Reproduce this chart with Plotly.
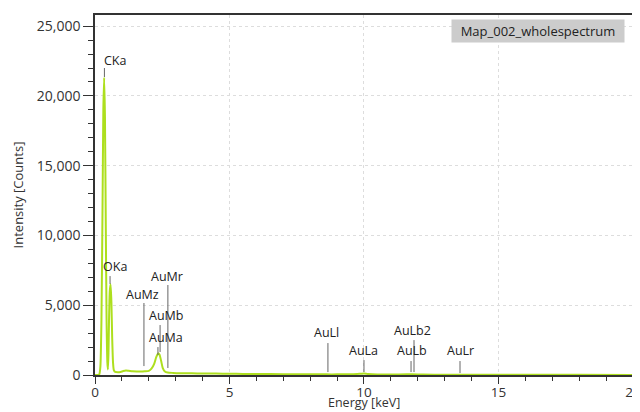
import plotly.graph_objects as go

# Spectrum
energy_kev = [0.0, 0.10, 0.16, 0.20, 0.24, 0.28, 0.31, 0.34, 0.37, 0.40, 0.43, 0.46, 0.48,
              0.50, 0.52, 0.55, 0.58, 0.61, 0.64, 0.67, 0.70, 0.75, 0.85, 0.95, 1.05, 1.15,
              1.25, 1.40, 1.55, 1.70, 1.85, 2.00, 2.10, 2.20, 2.28, 2.35, 2.40, 2.46, 2.52,
              2.60, 2.70, 2.90, 3.2, 3.6, 4.0, 4.5, 5.0, 5.5, 6.0, 7.0, 8.0, 8.6, 9.0, 9.6,
              9.9, 10.0, 10.15, 10.5, 11.0, 11.6, 11.8, 12.2, 13.0, 14.0, 16.0, 18.0, 20.0]
counts = [0, 0, 50, 600, 4000, 12000, 19000, 21300, 18500, 11000, 4000, 900, 400,
          1500, 3800, 6000, 6500, 5200, 2600, 900, 350, 220, 200, 220, 280, 320,
          300, 260, 250, 250, 270, 300, 450, 800, 1300, 1550, 1450, 1000, 500,
          250, 180, 150, 130, 120, 110, 100, 90, 80, 70, 60, 50, 45, 45, 60,
          90, 100, 70, 40, 35, 45, 50, 30, 25, 20, 15, 10, 8]

# Peak identification markers
peak_names = ["CKa", "OKa", "AuMz", "AuMr", "AuMb", "AuMa", "AuLl", "AuLa", "AuLb2", "AuLb", "AuLr"]
peak_line_x = [0.35, 0.56, 1.82, 2.71, 2.42, 2.34, 8.66, 10.0, 11.86, 11.75, 13.57]
peak_line_top = [22000, 7090, 5160, 6450, 3580, 2000, 2290, 1070, 2500, 1000, 1000]
peak_line_bottom = [21350, 6520, 640, 500, 1650, 1430, 210, 210, 210, 210, 140]
label_x = [0.73, 0.75, 1.75, 2.68, 2.64, 2.64, 8.62, 10.0, 11.82, 11.78, 13.57]
label_y = [22560, 7810, 5800, 7090, 4230, 2720, 3080, 1790, 3220, 1790, 1790]

y_ticks = [0, 5000, 10000, 15000, 20000, 25000]
x_ticks = [0, 5, 10, 15, 20]

fig = go.Figure()
fig.add_trace(go.Scatter(x=energy_kev, y=counts, mode="lines",
                         line=dict(color="#addf1e", width=2, shape="spline", smoothing=0.6),
                         showlegend=False, hoverinfo="skip"))

for n, lx, lt, lb, tx, ty in zip(peak_names, peak_line_x, peak_line_top, peak_line_bottom, label_x, label_y):
    fig.add_shape(type="line", xref="x", yref="y", x0=lx, x1=lx, y0=lb, y1=lt,
                  line=dict(color="#666666", width=1))
    fig.add_annotation(x=tx, y=ty, xref="x", yref="y", text=n, showarrow=False,
                       font=dict(size=12.5, color="#222222", family="Open Sans"))

fig.add_annotation(xref="paper", yref="paper", x=0.985, y=0.99, xanchor="right", yanchor="top",
                   text="Map_002_wholespectrum", showarrow=False, bgcolor="#cccccc",
                   borderpad=2, width=168,
                   font=dict(size=13, color="#222222", family="Open Sans"))

# x-axis title placed just below the tick labels, at the bottom edge
fig.add_annotation(xref="paper", yref="paper", x=0.5, y=-0.102, xanchor="center", yanchor="bottom",
                   text="Energy [keV]", showarrow=False, borderpad=0,
                   font=dict(size=12.5, color="#333333", family="Open Sans"))

# page body adds an 8px offset; figure sized so plot lands at the reference's pixels
fig.update_layout(
    width=632, height=404,
    margin=dict(l=87, r=7, t=7, b=37),
    paper_bgcolor="white", plot_bgcolor="white",
    font=dict(family="Open Sans", size=14, color="#333333"),
    xaxis=dict(range=[0, 20.002], tickvals=x_ticks, ticks="outside", ticklen=7, tickcolor="#333",
               ticklabeloverflow="allow", ticklabelstandoff=-3, tickfont=dict(size=13.5),
               showline=True, linecolor="#333", linewidth=1.5, mirror=True, automargin=False,
               showgrid=True, gridcolor="#dddddd", griddash="dot", zeroline=False,
               minor=dict(dtick=1, ticks="outside", ticklen=4, tickcolor="#333", showgrid=False)),
    yaxis=dict(range=[0, 25800], tickvals=y_ticks, tickformat=",", ticks="outside", ticklen=10,
               tickcolor="#333", showline=True, linecolor="#333", linewidth=1.5, mirror=True,
               automargin=False,
               showgrid=True, gridcolor="#dddddd", griddash="dot", zeroline=False,
               minor=dict(dtick=1000, ticks="outside", ticklen=5, tickcolor="#333", showgrid=False),
               title=dict(text="Intensity [Counts]", standoff=10, font=dict(size=13))),
)

fig.write_html("out.html")
